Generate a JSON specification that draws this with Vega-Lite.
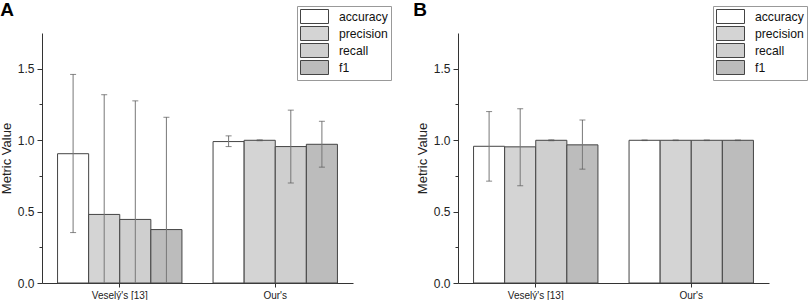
{
  "$schema": "https://vega.github.io/schema/vega-lite/v6.json",
  "padding": {"left": 0, "top": 0, "right": 0, "bottom": 0},
  "background": "white",
  "config": {
    "view": {"stroke": null},
    "font": "Liberation Sans",
    "axis": {"domainColor": "#333", "tickColor": "#333", "labelColor": "#222", "titleColor": "#222", "labelFont": "Liberation Sans", "titleFont": "Liberation Sans", "titleFontWeight": "normal", "grid": false},
    "legend": {"orient": "none", "legendX": 255, "legendY": -27, "title": null, "symbolType": "M-2,-1H2V1H-2Z", "symbolSize": 196, "symbolOffset": 7, "symbolStrokeColor": "#444", "symbolStrokeWidth": 1, "labelFontSize": 12.2, "labelFont": "Liberation Sans", "labelColor": "#111", "strokeColor": "#999", "padding": 3, "rowPadding": -6, "labelOffset": 17},
    "title": {"anchor": "start", "frame": "bounds", "fontSize": 19, "fontWeight": "bold", "font": "Liberation Sans", "color": "#000", "offset": -14}
  },
  "datasets": {
    "a": [
      {"method": "Veselý's [13]", "metric": "accuracy", "value": 0.905, "lo": 0.353, "hi": 1.46},
      {"method": "Veselý's [13]", "metric": "precision", "value": 0.48, "lo": -0.36, "hi": 1.318},
      {"method": "Veselý's [13]", "metric": "recall", "value": 0.445, "lo": -0.385, "hi": 1.275},
      {"method": "Veselý's [13]", "metric": "f1", "value": 0.374, "lo": -0.41, "hi": 1.16},
      {"method": "Our's", "metric": "accuracy", "value": 0.99, "lo": 0.955, "hi": 1.03},
      {"method": "Our's", "metric": "precision", "value": 0.999, "lo": 0.996, "hi": 1.002},
      {"method": "Our's", "metric": "recall", "value": 0.955, "lo": 0.70, "hi": 1.21},
      {"method": "Our's", "metric": "f1", "value": 0.971, "lo": 0.811, "hi": 1.132}
    ],
    "b": [
      {"method": "Veselý's [13]", "metric": "accuracy", "value": 0.957, "lo": 0.713, "hi": 1.20},
      {"method": "Veselý's [13]", "metric": "precision", "value": 0.953, "lo": 0.681, "hi": 1.22},
      {"method": "Veselý's [13]", "metric": "recall", "value": 0.999, "lo": 0.996, "hi": 1.002},
      {"method": "Veselý's [13]", "metric": "f1", "value": 0.967, "lo": 0.797, "hi": 1.141},
      {"method": "Our's", "metric": "accuracy", "value": 0.999, "lo": 0.997, "hi": 1.001},
      {"method": "Our's", "metric": "precision", "value": 0.999, "lo": 0.997, "hi": 1.001},
      {"method": "Our's", "metric": "recall", "value": 0.999, "lo": 0.997, "hi": 1.001},
      {"method": "Our's", "metric": "f1", "value": 0.999, "lo": 0.997, "hi": 1.001}
    ]
  },
  "hconcat": [
    {
      "title": {"text": "A"},
      "width": 311,
      "height": 250,
      "data": {"name": "a"},
      "encoding": {
        "x": {"field": "method", "type": "nominal", "sort": ["Veselý's [13]", "Our's"], "scale": {"paddingInner": 0.2, "paddingOuter": 0.1}, "axis": {"title": null, "labelAngle": 0, "labelFontSize": 10, "tickSize": 4, "labelPadding": 3}},
        "xOffset": {"field": "metric", "type": "nominal", "sort": ["accuracy", "precision", "recall", "f1"], "scale": {"paddingInner": 0, "paddingOuter": 0}}
      },
      "layer": [
        {
          "mark": {"type": "bar", "stroke": "#444", "strokeWidth": 1},
          "encoding": {
            "y": {"field": "value", "type": "quantitative", "scale": {"domain": [0, 1.75], "nice": false}, "axis": {"title": "Metric Value", "titleFontSize": 13, "titlePadding": 4, "values": [0, 0.25, 0.5, 0.75, 1, 1.25, 1.5], "labelExpr": "datum.value % 0.5 === 0 ? format(datum.value, '.1f') : ''", "labelFontSize": 12, "tickSize": {"condition": {"test": "datum.value % 0.5 === 0", "value": 5}, "value": 3}, "labelPadding": 3}},
            "fill": {"field": "metric", "type": "nominal", "sort": ["accuracy", "precision", "recall", "f1"], "scale": {"domain": ["accuracy", "precision", "recall", "f1"], "range": ["#ffffff", "#d4d4d4", "#cfcfcf", "#bcbcbc"]}}
          }
        },
        {
          "mark": {"type": "rule", "clip": true, "color": "#777", "strokeWidth": 1},
          "encoding": {"y": {"field": "lo", "type": "quantitative"}, "y2": {"field": "hi"}}
        },
        {
          "mark": {"type": "tick", "clip": true, "color": "#555", "size": 6, "thickness": 1},
          "encoding": {"y": {"field": "hi", "type": "quantitative"}}
        },
        {
          "mark": {"type": "tick", "clip": true, "color": "#555", "size": 6, "thickness": 1},
          "encoding": {"y": {"field": "lo", "type": "quantitative"}}
        }
      ]
    },
    {
      "title": {"text": "B", "dx": -3},
      "width": 311,
      "height": 250,
      "data": {"name": "b"},
      "encoding": {
        "x": {"field": "method", "type": "nominal", "sort": ["Veselý's [13]", "Our's"], "scale": {"paddingInner": 0.2, "paddingOuter": 0.1}, "axis": {"title": null, "labelAngle": 0, "labelFontSize": 10, "tickSize": 4, "labelPadding": 3}},
        "xOffset": {"field": "metric", "type": "nominal", "sort": ["accuracy", "precision", "recall", "f1"], "scale": {"paddingInner": 0, "paddingOuter": 0}}
      },
      "layer": [
        {
          "mark": {"type": "bar", "stroke": "#444", "strokeWidth": 1},
          "encoding": {
            "y": {"field": "value", "type": "quantitative", "scale": {"domain": [0, 1.75], "nice": false}, "axis": {"title": "Metric Value", "titleFontSize": 13, "titlePadding": 4, "values": [0, 0.25, 0.5, 0.75, 1, 1.25, 1.5], "labelExpr": "datum.value % 0.5 === 0 ? format(datum.value, '.1f') : ''", "labelFontSize": 12, "tickSize": {"condition": {"test": "datum.value % 0.5 === 0", "value": 5}, "value": 3}, "labelPadding": 3}},
            "fill": {"field": "metric", "type": "nominal", "sort": ["accuracy", "precision", "recall", "f1"], "scale": {"domain": ["accuracy", "precision", "recall", "f1"], "range": ["#ffffff", "#d4d4d4", "#cfcfcf", "#bcbcbc"]}}
          }
        },
        {
          "mark": {"type": "rule", "clip": true, "color": "#777", "strokeWidth": 1},
          "encoding": {"y": {"field": "lo", "type": "quantitative"}, "y2": {"field": "hi"}}
        },
        {
          "mark": {"type": "tick", "clip": true, "color": "#555", "size": 6, "thickness": 1},
          "encoding": {"y": {"field": "hi", "type": "quantitative"}}
        },
        {
          "mark": {"type": "tick", "clip": true, "color": "#555", "size": 6, "thickness": 1},
          "encoding": {"y": {"field": "lo", "type": "quantitative"}}
        }
      ]
    }
  ],
  "spacing": 21,
  "resolve": {"scale": {"fill": "independent"}}
}
